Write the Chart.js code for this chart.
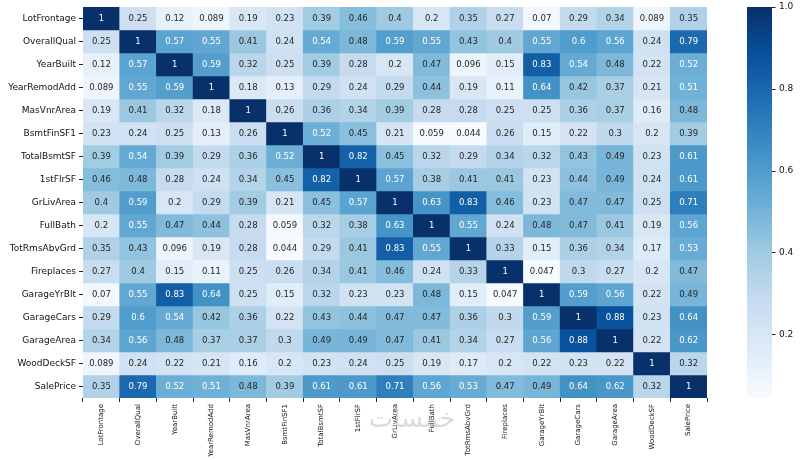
<!DOCTYPE html>
<html>
<head>
<meta charset="utf-8">
<script src="https://cdn.jsdelivr.net/npm/chart.js@4.4.0/dist/chart.umd.min.js"></script>
<style>
  html, body { margin: 0; padding: 0; background: #fff; }
  #wrap { width: 800px; height: 460px; }
</style>
</head>
<body>
<div id="wrap"><canvas id="heat"></canvas></div>
<script>
const features = ['LotFrontage', 'OverallQual', 'YearBuilt', 'YearRemodAdd', 'MasVnrArea', 'BsmtFinSF1',
  'TotalBsmtSF', '1stFlrSF', 'GrLivArea', 'FullBath', 'TotRmsAbvGrd', 'Fireplaces', 'GarageYrBlt',
  'GarageCars', 'GarageArea', 'WoodDeckSF', 'SalePrice'];

// correlation values, one row per feature (as printed in the cells)
const corr = [
  [1, 0.25, 0.12, 0.089, 0.19, 0.23, 0.39, 0.46, 0.4, 0.2, 0.35, 0.27, 0.07, 0.29, 0.34, 0.089, 0.35],
  [0.25, 1, 0.57, 0.55, 0.41, 0.24, 0.54, 0.48, 0.59, 0.55, 0.43, 0.4, 0.55, 0.6, 0.56, 0.24, 0.79],
  [0.12, 0.57, 1, 0.59, 0.32, 0.25, 0.39, 0.28, 0.2, 0.47, 0.096, 0.15, 0.83, 0.54, 0.48, 0.22, 0.52],
  [0.089, 0.55, 0.59, 1, 0.18, 0.13, 0.29, 0.24, 0.29, 0.44, 0.19, 0.11, 0.64, 0.42, 0.37, 0.21, 0.51],
  [0.19, 0.41, 0.32, 0.18, 1, 0.26, 0.36, 0.34, 0.39, 0.28, 0.28, 0.25, 0.25, 0.36, 0.37, 0.16, 0.48],
  [0.23, 0.24, 0.25, 0.13, 0.26, 1, 0.52, 0.45, 0.21, 0.059, 0.044, 0.26, 0.15, 0.22, 0.3, 0.2, 0.39],
  [0.39, 0.54, 0.39, 0.29, 0.36, 0.52, 1, 0.82, 0.45, 0.32, 0.29, 0.34, 0.32, 0.43, 0.49, 0.23, 0.61],
  [0.46, 0.48, 0.28, 0.24, 0.34, 0.45, 0.82, 1, 0.57, 0.38, 0.41, 0.41, 0.23, 0.44, 0.49, 0.24, 0.61],
  [0.4, 0.59, 0.2, 0.29, 0.39, 0.21, 0.45, 0.57, 1, 0.63, 0.83, 0.46, 0.23, 0.47, 0.47, 0.25, 0.71],
  [0.2, 0.55, 0.47, 0.44, 0.28, 0.059, 0.32, 0.38, 0.63, 1, 0.55, 0.24, 0.48, 0.47, 0.41, 0.19, 0.56],
  [0.35, 0.43, 0.096, 0.19, 0.28, 0.044, 0.29, 0.41, 0.83, 0.55, 1, 0.33, 0.15, 0.36, 0.34, 0.17, 0.53],
  [0.27, 0.4, 0.15, 0.11, 0.25, 0.26, 0.34, 0.41, 0.46, 0.24, 0.33, 1, 0.047, 0.3, 0.27, 0.2, 0.47],
  [0.07, 0.55, 0.83, 0.64, 0.25, 0.15, 0.32, 0.23, 0.23, 0.48, 0.15, 0.047, 1, 0.59, 0.56, 0.22, 0.49],
  [0.29, 0.6, 0.54, 0.42, 0.36, 0.22, 0.43, 0.44, 0.47, 0.47, 0.36, 0.3, 0.59, 1, 0.88, 0.23, 0.64],
  [0.34, 0.56, 0.48, 0.37, 0.37, 0.3, 0.49, 0.49, 0.47, 0.41, 0.34, 0.27, 0.56, 0.88, 1, 0.22, 0.62],
  [0.089, 0.24, 0.22, 0.21, 0.16, 0.2, 0.23, 0.24, 0.25, 0.19, 0.17, 0.2, 0.22, 0.23, 0.22, 1, 0.32],
  [0.35, 0.79, 0.52, 0.51, 0.48, 0.39, 0.61, 0.61, 0.71, 0.56, 0.53, 0.47, 0.49, 0.64, 0.62, 0.32, 1]
];

const cbTicks = [0.2, 0.4, 0.6, 0.8, 1.0];
const vmin = 0.044, vmax = 1;

// matplotlib "Blues"
const blues = [[247,251,255],[222,235,247],[198,219,239],[158,202,225],[107,174,214],
  [66,146,198],[33,113,181],[8,81,156],[8,48,107]];

function rgbAt(v) {
  let t = (v - vmin) / (vmax - vmin);
  t = Math.max(0, Math.min(1, t));
  const p = t * (blues.length - 1);
  const i = Math.min(Math.floor(p), blues.length - 2);
  const f = p - i;
  return blues[i].map((c, k) => c + (blues[i + 1][k] - c) * f);
}
function cssAt(v) {
  const c = rgbAt(v);
  return `rgb(${c.map(Math.round).join(',')})`;
}
function textColor(v) {
  const lin = rgbAt(v).map(c => {
    c /= 255;
    return c <= 0.03928 ? c / 12.92 : Math.pow((c + 0.055) / 1.055, 2.4);
  });
  const lum = 0.2126 * lin[0] + 0.7152 * lin[1] + 0.0722 * lin[2];
  return lum > 0.408 ? '#262626' : '#ffffff';
}

const datasets = corr.map((row, r) => ({
  label: features[r],
  data: row.map(() => [r, r + 1]),
  backgroundColor: row.map(cssAt),
  borderWidth: 0,
  grouped: false,
  barPercentage: 1,
  categoryPercentage: 1
}));

const cellText = {
  id: 'cellText',
  afterDatasetsDraw(chart) {
    const ctx = chart.ctx;
    ctx.save();
    ctx.font = '8.5px "DejaVu Sans"';
    ctx.textAlign = 'center';
    ctx.textBaseline = 'middle';
    chart.data.datasets.forEach((ds, r) => {
      chart.getDatasetMeta(r).data.forEach((bar, c) => {
        const v = corr[r][c];
        ctx.fillStyle = textColor(v);
        ctx.fillText(String(v), bar.x, (bar.y + bar.base) / 2);
      });
    });
    ctx.restore();
  }
};

const colorBar = {
  id: 'colorBar',
  afterDraw(chart) {
    const ctx = chart.ctx;
    const s = chart.scales.cb;
    const top = s.getPixelForValue(vmax), bot = s.getPixelForValue(vmin);
    const x0 = s.left + 40, w = 25;
    const g = ctx.createLinearGradient(0, bot, 0, top);
    blues.forEach((c, i) => g.addColorStop(i / (blues.length - 1), `rgb(${c.join(',')})`));
    ctx.save();
    ctx.fillStyle = g;
    ctx.fillRect(x0, top, w, bot - top);
    ctx.strokeStyle = '#222';
    ctx.lineWidth = 1;
    cbTicks.forEach(t => {
      const y = Math.round(s.getPixelForValue(t)) + 0.5;
      ctx.beginPath();
      ctx.moveTo(x0 + w, y);
      ctx.lineTo(x0 + w + 3.5, y);
      ctx.stroke();
    });
    // site watermark
    ctx.fillStyle = 'rgba(190,190,190,0.55)';
    ctx.font = '26px "DejaVu Sans"';
    ctx.textAlign = 'center';
    ctx.textBaseline = 'middle';
    ctx.fillText('خمسات', 412, 420);
    ctx.restore();
  }
};

new Chart(document.getElementById('heat'), {
  type: 'bar',
  data: { labels: features, datasets: datasets },
  options: {
    responsive: true,
    maintainAspectRatio: false,
    animation: false,
    layout: { padding: { top: 7, left: 0, right: 0, bottom: 0 } },
    plugins: { legend: { display: false }, tooltip: { enabled: false } },
    scales: {
      x: {
        type: 'category',
        offset: true,
        afterFit: s => { s.height = 62; s.paddingLeft = 0; s.paddingRight = 0; },
        grid: { display: true, drawOnChartArea: false, drawTicks: true, tickLength: 4, color: '#222' },
        border: { display: false },
        ticks: {
          autoSkip: false, maxRotation: 90, minRotation: 90, padding: 2,
          color: '#111', font: { family: 'DejaVu Sans', size: 7 }
        }
      },
      y: {
        type: 'linear',
        min: 0, max: features.length,
        reverse: true,
        afterFit: s => { s.width = 83; s.paddingTop = 0; s.paddingBottom = 0; },
        afterBuildTicks: s => { s.ticks = features.map((f, i) => ({ value: i + 0.5 })); },
        grid: { display: true, drawOnChartArea: false, drawTicks: true, tickLength: 4, color: '#222' },
        border: { display: false },
        ticks: {
          autoSkip: false, padding: 3, color: '#111',
          font: { family: 'DejaVu Sans', size: 9 },
          callback: v => features[Math.floor(v)]
        }
      },
      cb: {
        type: 'linear',
        position: 'right',
        min: vmin, max: vmax,
        afterFit: s => { s.width = 93; s.paddingTop = 0; s.paddingBottom = 0; },
        afterBuildTicks: s => { s.ticks = cbTicks.map(v => ({ value: v })); },
        grid: { display: false, drawTicks: false },
        border: { display: false },
        ticks: {
          padding: 72, color: '#111',
          font: { family: 'DejaVu Sans', size: 9 },
          callback: v => v.toFixed(1)
        }
      }
    }
  },
  plugins: [cellText, colorBar]
});
</script>
</body>
</html>
